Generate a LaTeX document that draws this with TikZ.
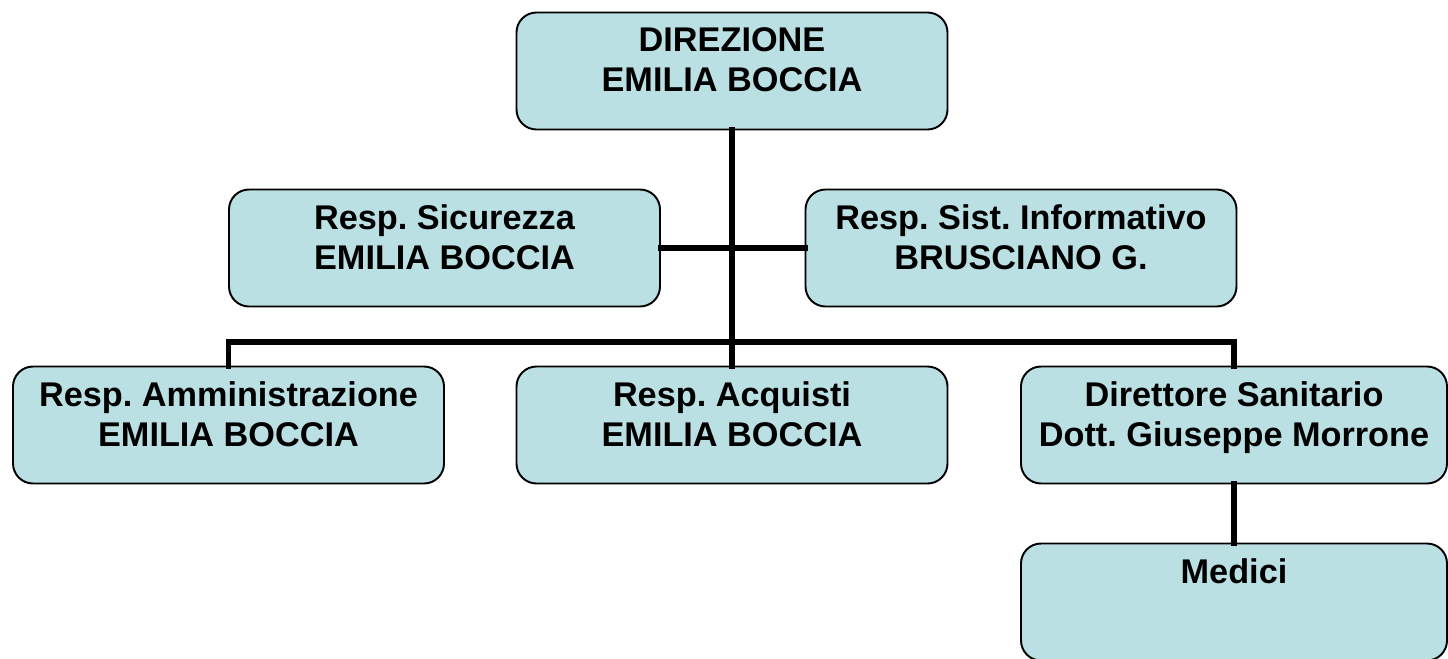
\documentclass[tikz,border=0pt]{standalone}
\usepackage{fontspec}
\setmainfont{Liberation Sans}
\usetikzlibrary{positioning}
\frenchspacing

\definecolor{boxfill}{RGB}{187,224,227}

\tikzset{
  orgbox/.style={draw=black, line width=1.1pt, fill=boxfill, rounded corners=0.4cm,
    minimum width=8.62cm, minimum height=2.34cm, inner sep=0pt},
  orgtext/.style={anchor=north, inner sep=0pt, align=center,
    font=\fontsize{19.5}{22.8}\selectfont\bfseries},
  link/.style={line width=3.4pt, line cap=rect}
}

\begin{document}
\begin{tikzpicture}
        % Page frame
        \useasboundingbox (0,0) rectangle (28.96,-13.16);

        % Centres of the boxes
        \coordinate (c-dir) at (14.64, -1.42);
        \coordinate (c-sic) at (8.89, -4.96);
        \coordinate (c-sist) at (20.42, -4.96);
        \coordinate (c-amm) at (4.57, -8.50);
        \coordinate (c-acq) at (14.64, -8.50);
        \coordinate (c-dsan) at (24.68, -8.50);
        \coordinate (c-med) at (24.68, -12.04);

        % Height of the cross bar
        \coordinate (bar) at (0, -6.84);

        % Boxes
        \node[orgbox] (dir) at (c-dir) {};
        \node[orgbox] (sic) at (c-sic) {};
        \node[orgbox] (sist) at (c-sist) {};
        \node[orgbox] (amm) at (c-amm) {};
        \node[orgbox] (acq) at (c-acq) {};
        \node[orgbox, minimum width=8.52cm] (dsan) at (c-dsan) {};
        \node[orgbox, minimum width=8.52cm] (med) at (c-med) {};

        % Lines between the boxes
        \draw[link] (dir.south) -- (acq.north);
        \draw[link] (sic.east) -- (sist.west);
        \draw[link] (amm.north) -- (amm.north |- bar) -- (dsan.north |- bar) -- (dsan.north);
        \draw[link] (dsan.south) -- (med.north);

        % Texts in the boxes
        \node[orgtext] (dir-t) at ([yshift=-0.31cm]dir.north) {DIREZIONE\\EMILIA BOCCIA};
        \node[orgtext] (sic-t) at ([yshift=-0.32cm]sic.north) {Resp. Sicurezza\\EMILIA BOCCIA};
        \node[orgtext] (sist-t) at ([yshift=-0.32cm]sist.north) {Resp. Sist. Informativo\\BRUSCIANO G.};
        \node[orgtext] (amm-t) at ([yshift=-0.31cm]amm.north) {Resp. Amministrazione\\EMILIA BOCCIA};
        \node[orgtext] (acq-t) at ([yshift=-0.31cm]acq.north) {Resp. Acquisti\\EMILIA BOCCIA};
        \node[orgtext] (dsan-t) at ([yshift=-0.31cm]dsan.north) {Direttore Sanitario\\Dott. Giuseppe Morrone};
        \node[orgtext] (med-t) at ([yshift=-0.32cm]med.north) {Medici};

\end{tikzpicture}
\end{document}
